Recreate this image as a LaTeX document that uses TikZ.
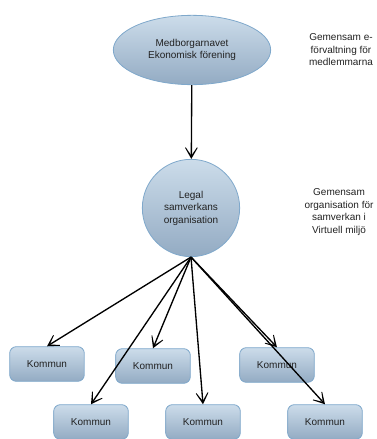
\documentclass[tikz,border=0pt]{standalone}
\usepackage{fontspec}
\setmainfont{Liberation Sans}
\usetikzlibrary{arrows.meta,shapes.geometric}
\definecolor{ljus}{HTML}{CCDCEA}
\definecolor{mork}{HTML}{93ABC3}
\definecolor{kant}{HTML}{7FA8CB}
\definecolor{textgra}{HTML}{222222}
\begin{document}
\begin{tikzpicture}[x=0.75pt,y=-0.75pt,
    kropp/.style={draw=kant,line width=0.6pt,top color=ljus,bottom color=mork,
      text=textgra,font=\fontsize{7.5}{9.4}\selectfont,align=center,inner sep=0pt},
    kommun/.style={kropp,rounded corners=5pt,minimum width=56pt,minimum height=26pt},
    notering/.style={text=textgra,font=\fontsize{7.5}{9.4}\selectfont,align=center},
    pil/.style={-{Stealth[open,length=15pt,width=17pt,inset=12.5pt]},line width=1pt}]
                \useasboundingbox (0,0) rectangle (377,439);
                \node[kropp,ellipse,minimum width=118pt,minimum height=52pt] (E) at (192,50) {Medborgarnavet\\Ekonomisk förening};
                \node[kropp,circle,minimum size=73pt] (C) at (191,208) {Legal\\samverkans\\organisation};
                \node[notering] (T1) at (341,50) {Gemensam e-\\förvaltning för\\medlemmarna};
                \node[notering] (T2) at (339,212) {Gemensam\\organisation för\\samverkan i\\Virtuell miljö};
                \node[kommun] (k1) at (47,364) {Kommun};
                \node[kommun] (k2) at (153,366) {Kommun};
                \node[kommun] (k3) at (277,365) {Kommun};
                \node[kommun] (k4) at (91,422) {Kommun};
                \node[kommun] (k5) at (203,422) {Kommun};
                \node[kommun] (k6) at (325,422) {Kommun};
                \draw[pil] (E) -- (C);
                \foreach \k in {k1,k2,k3,k4,k5,k6}
                    \draw[pil] (C.south) -- (\k.north);
            \end{tikzpicture}
\end{document}
